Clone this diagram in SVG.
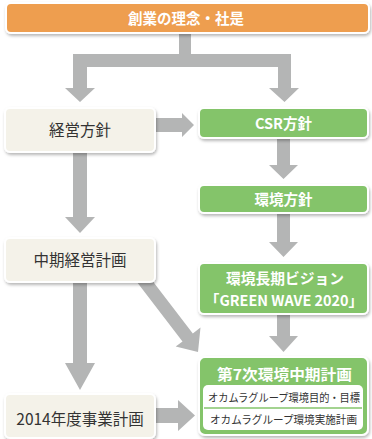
<svg xmlns="http://www.w3.org/2000/svg" width="372" height="439" viewBox="0 0 372 439">
<defs>
<filter id="sh" x="-10%" y="-20%" width="120%" height="150%">
<feDropShadow dx="1" dy="2" stdDeviation="1.5" flood-color="#000" flood-opacity="0.28"/>
</filter>
</defs>
<style>
.arr{fill:#B4B5B5;}
.beige{fill:#F4F2E9;stroke:#fff;stroke-width:2;filter:url(#sh);}
.green{fill:#84C46B;stroke:#fff;stroke-width:2;filter:url(#sh);}
.orange{fill:#EE9E4F;stroke:#fff;stroke-width:2;filter:url(#sh);}
text{font-family:"Noto Sans CJK JP","Noto Sans",sans-serif;text-anchor:middle;}
.dk{fill:#333;font-size:15.5px;}
.wt{fill:#fff;font-weight:bold;font-size:14.5px;}
.sm{fill:#333;font-size:11px;}
</style>
<g id="connectors">
<path class="arr" d="M179,33 H191 V54 H291 V88 H299 L284.5,102 L269,88 H278 V67 H87 V88 H95 L80,102 L65,88 H73 V54 H179 Z"/>
<path class="arr" d="M155,118 H182 V113 L194,125 L182,137 V132 H155 Z"/>
<path class="arr" d="M277,138 H290 V165 H298 L283.5,179 L269,165 H277 Z"/>
<path class="arr" d="M277,213 H290 V242 H298 L283.5,257 L269,242 H277 Z"/>
<path class="arr" d="M277,313 H290 V336 H298 L283.5,352 L269,336 H277 Z"/>
<path class="arr" d="M73,152 H87 V217 H95 L80,233 L65,217 H73 Z"/>
<path class="arr" d="M73,282 H87 V363 H95 L80,390 L65,363 H73 Z"/>
<path class="arr" d="M155,408 H178 V400 L195,415.5 L178,431 V423 H155 Z"/>
<path class="arr" d="M136.9,282 L147.2,274 L192.8,333.5 L200.5,327.5 L198,352 L175.7,346.6 L182.5,341.5 Z"/>
</g>
<g id="n-rinen">
<rect class="orange" x="6" y="3" width="363" height="30" rx="5"/>
<text class="wt" x="186" y="23.5" font-size="15">創業の理念・社是</text>
</g>
<g id="n-keiei">
<rect class="beige" x="5" y="108" width="150" height="44" rx="5"/>
<text class="dk" x="80" y="135.5">経営方針</text>
</g>
<g id="n-csr">
<rect class="green" x="199" y="108" width="169" height="30" rx="5"/>
<text class="wt" x="283.5" y="128.5">CSR方針</text>
</g>
<g id="n-kankyo">
<rect class="green" x="199" y="185" width="169" height="28" rx="5"/>
<text class="wt" x="283.5" y="204.5">環境方針</text>
</g>
<g id="n-chuki">
<rect class="beige" x="5" y="238" width="150" height="44" rx="5"/>
<text class="dk" x="80" y="265.5">中期経営計画</text>
</g>
<g id="n-vision">
<rect class="green" x="199" y="263" width="169" height="51" rx="5"/>
<text class="wt" x="285" y="284" textLength="118" lengthAdjust="spacingAndGlyphs">環境長期ビジョン</text>
<text class="wt" x="284" y="305.5" textLength="158" lengthAdjust="spacingAndGlyphs">「GREEN WAVE 2020」</text>
</g>
<g id="n-7ji">
<rect class="green" x="199" y="357" width="169" height="78" rx="6"/>
<text class="wt" x="284.5" y="379.5" font-size="16" textLength="135" lengthAdjust="spacingAndGlyphs">第7次環境中期計画</text>
<rect x="203" y="385" width="160" height="45" rx="5" fill="#fff"/>
<line x1="204" y1="408" x2="362" y2="408" stroke="#84C46B" stroke-width="1.5"/>
<text class="sm" x="284" y="401.5" textLength="152" lengthAdjust="spacingAndGlyphs">オカムラグループ環境目的・目標</text>
<text class="sm" x="283.5" y="423.5" textLength="147" lengthAdjust="spacingAndGlyphs">オカムラグループ環境実施計画</text>
</g>
<g id="n-2014">
<rect class="beige" x="5" y="394" width="150" height="44" rx="5"/>
<text class="dk" x="80" y="425" font-size="16.5">2014年度事業計画</text>
</g>
</svg>
